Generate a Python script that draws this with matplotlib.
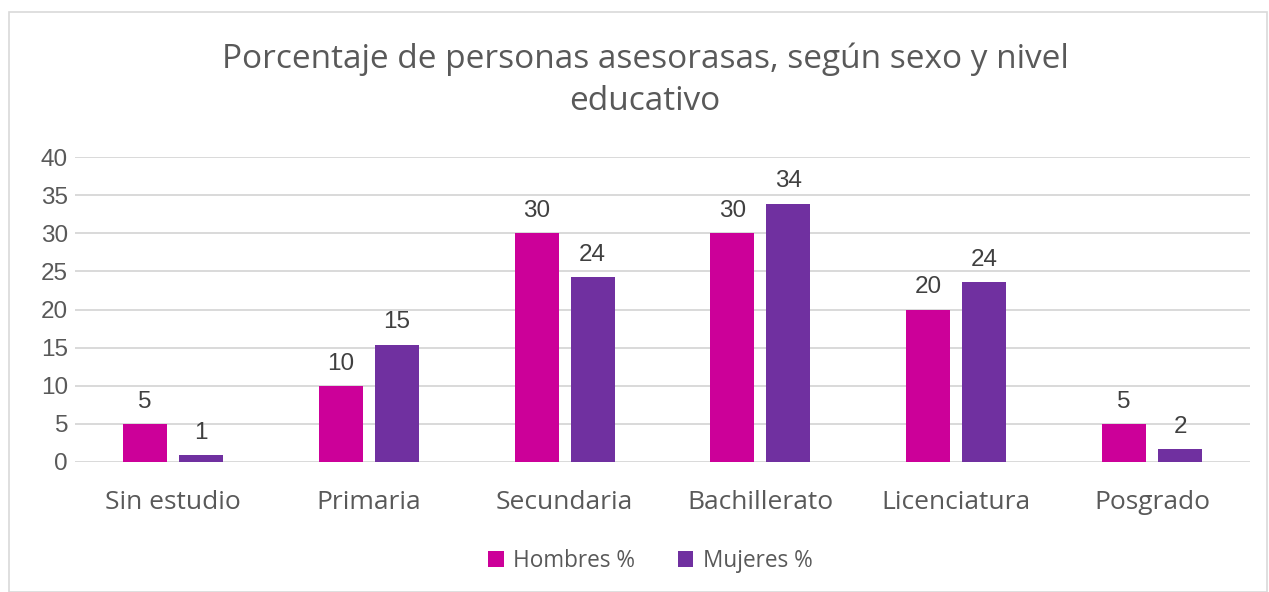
import matplotlib
matplotlib.use("Agg")
import matplotlib.pyplot as plt
import numpy as np
from matplotlib.patches import Rectangle

categories = ["Sin estudio", "Primaria", "Secundaria", "Bachillerato", "Licenciatura", "Posgrado"]
hombres = [5, 10, 30, 30, 20, 5]
mujeres = [0.95, 15.4, 24.3, 33.9, 23.6, 1.65]
series_names = ["Hombres %", "Mujeres %"]
colors = ["#CC0099", "#7030A0"]
yticks = [0, 5, 10, 15, 20, 25, 30, 35, 40]
title = "Porcentaje de personas asesorasas, según sexo y nivel\neducativo"

fig = plt.figure(figsize=(12.69, 5.92), dpi=100)
ax = fig.add_axes([75/1269, 1-462/592, (1250-75)/1269, (462-157)/592])

x = np.arange(len(categories))
w = 0.225
gap = 0.061
off = (w + gap) / 2
b1 = ax.bar(x - off, hombres, w, color=colors[0], label=series_names[0], zorder=3)
b2 = ax.bar(x + off, mujeres, w, color=colors[1], label=series_names[1], zorder=3)

numfont = dict(family=["Liberation Sans", "DejaVu Sans"], size=17.5, color="#404040")
for bars, vals in ((b1, hombres), (b2, mujeres)):
    for r, v in zip(bars, vals):
        ax.annotate(f"{round(v):d}", (r.get_x() + r.get_width()/2, v),
                    xytext=(0, 8), textcoords="offset points",
                    ha="center", va="bottom", **numfont)

ax.set_xlim(-0.5, len(categories) - 0.5)
ax.set_ylim(0, 40)
ax.set_yticks(yticks)
ax.set_yticklabels([str(t) for t in yticks], family=["Liberation Sans", "DejaVu Sans"],
                   fontsize=17.5, color="#595959")
ax.set_xticks(x)
ax.set_xticklabels(categories, family=["Open Sans", "DejaVu Sans"], fontsize=19, color="#595959")
ax.tick_params(axis="both", length=0)
ax.tick_params(axis="y", pad=5)
ax.tick_params(axis="x", pad=20)
ax.grid(axis="y", color="#D9D9D9", linewidth=1.4, zorder=0)
for s in ax.spines.values():
    s.set_visible(False)

fig.text(645/1269, 1-80/592, title, ha="center", va="center",
         family=["Open Sans", "DejaVu Sans"], fontsize=24, color="#595959", linespacing=1.38)

leg = fig.legend(handles=[b1, b2], labels=series_names, loc="center",
                 bbox_to_anchor=(650/1269, 1-561/592), ncol=2, frameon=False,
                 prop=dict(family=["Open Sans", "DejaVu Sans"], size=16.3),
                 handlelength=0.7, handleheight=0.7, handletextpad=0.4, columnspacing=1.9)
for t in leg.get_texts():
    t.set_color("#595959")

fig.patches.append(Rectangle((9/1269, 0), 1 - 9/1269 - 2/1269, 1 - 12/592,
                             transform=fig.transFigure, fill=False,
                             edgecolor="#D9D9D9", linewidth=1.2))

fig.savefig("out.png", dpi=100)
